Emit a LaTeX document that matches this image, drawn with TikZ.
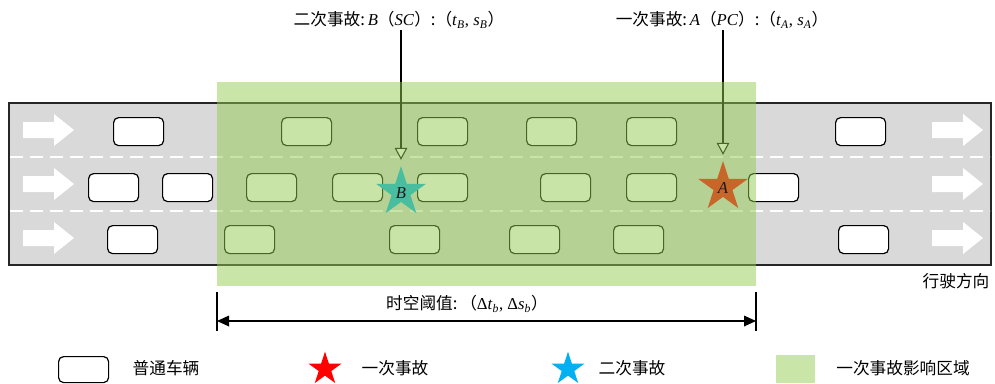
\documentclass[tikz,border=0pt]{standalone}
\usepackage{fontspec}
\setmainfont{Liberation Serif}
\newfontfamily\cjk{Noto Sans CJK SC}
\usetikzlibrary{shapes.geometric,arrows.meta}
\definecolor{roadgray}{HTML}{D9D9D9}
\definecolor{zonegreen}{RGB}{147,203,81}
\definecolor{pcred}{RGB}{255,0,0}
\definecolor{sccyan}{RGB}{0,176,240}
\begin{document}
\begin{tikzpicture}[x=0.75pt,y=-0.75pt,
  car/.style={draw=black, line width=0.9pt, fill=white, rounded corners=3.75pt,
    minimum width=37.5pt, minimum height=21pt, inner sep=0pt, anchor=north west},
  accstar/.style={star, star points=5, star point ratio=2.618, inner sep=0pt,
    minimum size=39pt, draw=none},
  legstar/.style={accstar, minimum size=26pt},
  lbl/.style={font=\fontsize{12.5}{15}\selectfont, inner sep=1pt},
  leader/.style={draw=black, line width=0.8pt,
    -{Triangle[open, fill=white, length=9pt, width=9.5pt, line width=0.8pt]}, shorten >=4pt},
  dimline/.style={draw=black, line width=0.9pt,
    {Triangle[length=9pt, width=8pt]}-{Triangle[length=9pt, width=8pt]}},
  lanearrow/.pic={\fill[white] (0,-8) -- (31,-8) -- (31,-16) -- (51,0) -- (31,16) -- (31,8) -- (0,8) -- cycle;}
]
\useasboundingbox (0,0) rectangle (995,383);

% road
\draw[line width=0.9pt, draw=black!85, fill=roadgray] (9,103) rectangle (991,265);
\foreach \yy in {157,211}
  \draw[white, line width=1.5pt, dash pattern=on 9.75pt off 5.25pt] (10,\yy) -- (990,\yy);

% lane arrows
\foreach \yy in {130,184,238}{
  \pic at (23,\yy) {lanearrow};
  \pic at (932,\yy) {lanearrow};
}

% cars lane 1
\node[car] (c11) at (113,117) {};
\node[car] (c12) at (281,117) {};
\node[car] (c13) at (417,117) {};
\node[car] (c14) at (526,117) {};
\node[car] (c15) at (626,117) {};
\node[car] (c16) at (835,117) {};
% cars lane 2
\node[car] (c21) at (88,173) {};
\node[car] (c22) at (162,173) {};
\node[car] (c23) at (246,173) {};
\node[car] (c24) at (332,173) {};
\node[car] (c25) at (417,173) {};
\node[car] (c26) at (540,173) {};
\node[car] (c27) at (626,173) {};
\node[car] (c28) at (748,173) {};
% cars lane 3
\node[car] (c31) at (107,225) {};
\node[car] (c32) at (224,225) {};
\node[car] (c33) at (389,225) {};
\node[car] (c34) at (509,225) {};
\node[car] (c35) at (613,225) {};
\node[car] (c36) at (838,225) {};

% accident stars
\node[accstar, fill=sccyan] (starB) at (401,192) {};
\node[accstar, fill=pcred] (starA) at (723,187) {};

% titles
\node[lbl] (tB) at (399,20) {{\cjk 二次事故:}\,\textit{B}{\cjk （}\textit{SC}{\cjk ）:（}\textit{t}\textsubscript{\textit{B}}, \textit{s}\textsubscript{\textit{B}}{\cjk ）}};
\node[lbl] (tA) at (722,20) {{\cjk 一次事故:}\,\textit{A}{\cjk （}\textit{PC}{\cjk ）:（}\textit{t}\textsubscript{\textit{A}}, \textit{s}\textsubscript{\textit{A}}{\cjk ）}};
\draw[leader] (tB.south -| starB) -- (starB.north);
\draw[leader] (tA.south -| starA) -- (starA.north);

% influence zone overlay
\fill[zonegreen, fill opacity=0.5] (217,82) rectangle (756,286);

% star letters
\node[lbl, text=black!90] (labB) at ([yshift=-1pt]starB.center) {\textit{B}};
\node[lbl, text=black!90] (labA) at ([yshift=-1pt]starA.center) {\textit{A}};

% direction label
\node[lbl] (dir) at (956,281) {\cjk 行驶方向};

% dimension
\draw[line width=0.9pt] (217,292) -- (217,331);
\draw[line width=0.9pt] (756,292) -- (756,331);
\coordinate (dL) at (217,321);
\coordinate (dR) at (756,321);
\draw[dimline] (dL) -- (dR);
\node[lbl] (dimtext) at (467,304) {{\cjk 时空阈值:}\,{\cjk （}Δ\textit{t}\textsubscript{\textit{b}}, Δ\textit{s}\textsubscript{\textit{b}}{\cjk ）}};

% legend
\node[car, minimum height=19.5pt] (lcar) at (58,356) {};
\node[lbl] (lcartext) at (166,368) {\cjk 普通车辆};
\node[legstar, fill=pcred] (lpc) at (325,369) {};
\node[lbl] (lpctext) at (395,368) {\cjk 一次事故};
\node[legstar, fill=sccyan] (lsc) at (568,369) {};
\node[lbl] (lsctext) at (632,368) {\cjk 二次事故};
\fill[zonegreen, fill opacity=0.5] (776,355) rectangle (815,383);
\node[lbl] (lzonetext) at (903,368) {\cjk 一次事故影响区域};
\end{tikzpicture}
\end{document}
